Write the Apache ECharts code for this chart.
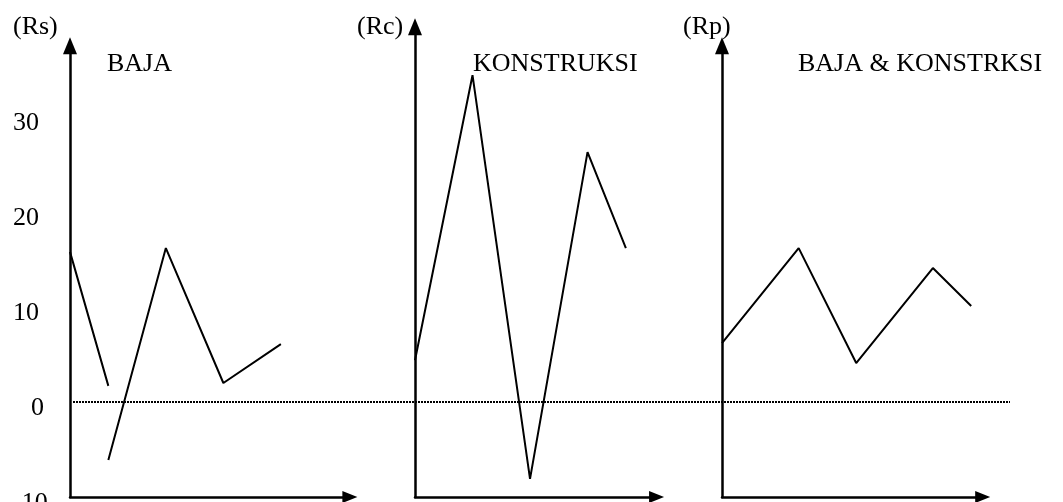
<!DOCTYPE html>
<html>
<head>
<meta charset="utf-8">
<script src="https://cdn.jsdelivr.net/npm/echarts@6/dist/echarts.min.js"></script>
<style>
  html, body { margin: 0; padding: 0; background: #fff; }
  #chart { width: 1063px; height: 502px; }
</style>
</head>
<body>
<div id="chart"></div>
<script>
// Return values per panel (x = period position, y = return)
const bajaX = [0, 2, 2, 5, 8, 11];
const bajaY = [15.8, 1.7, -6.1, 16.2, 2.0, 6.1];
const bajaBreakAfter = 1; // the line is broken after this point
const konstruksiX = [0, 3, 6, 9, 11];
const konstruksiY = [4.4, 34.4, -8.1, 26.3, 16.2];
const gabunganX = [0, 4, 7, 11, 13];
const gabunganY = [6.2, 16.2, 4.1, 14.1, 10.1];
const zeroX = [0, 1];
const zeroY = [0, 0];

const yTicks = [-10, 0, 10, 20, 30];
const axisNames = ['(Rs)', '(Rc)', '(Rp)'];
const panelTitles = ['BAJA', 'KONSTRUKSI', 'BAJA & KONSTRKSI'];

// layout
const UX = 19.17, UY = 9.5, BASE = 497;
const axisLeft = [70, 415, 722];
const xMax = [14.6, 12.6, 13.6];
const yMax = [37.5, 39.5, 37.5];
const yMin = -10;
const FONT = "'Liberation Serif', 'Times New Roman', serif";

function pairs(xs, ys, breakAfter) {
    const out = [];
    xs.forEach((x, i) => {
        out.push([x, ys[i]]);
        if (i === breakAfter) out.push([x, '-']);
    });
    return out;
}

const axisLineStyle = { color: '#000', width: 2.5 };
const grids = [], xAxes = [], yAxes = [];

for (let i = 0; i < 3; i++) {
    const h = (yMax[i] - yMin) * UY;
    grids.push({ left: axisLeft[i], top: BASE - h, width: xMax[i] * UX, height: h, outerBoundsMode: 'none', containLabel: false });
    xAxes.push({
        type: 'value', gridIndex: i, min: 0, max: xMax[i],
        axisLine: { show: true, onZero: false, lineStyle: axisLineStyle, symbol: ['none', 'triangle'], symbolSize: [12, 15] },
        axisTick: { show: false }, axisLabel: { show: false }, splitLine: { show: false }
    });
    yAxes.push({
        type: 'value', gridIndex: i, min: yMin, max: yMax[i], interval: 10,
        axisLine: { show: true, onZero: false, lineStyle: axisLineStyle, symbol: ['none', 'triangle'], symbolSize: [14, 17] },
        axisTick: { show: false }, splitLine: { show: false },
        axisLabel: {
            show: i === 0, align: 'left', margin: 57, padding: [12, 0, 0, 0],
            color: '#000', fontSize: 26, fontFamily: FONT,
            formatter: function (v) {
                if (yTicks.indexOf(v) < 0) return '';
                return v === 0 ? '{z|0}' : String(v);
            },
            rich: { z: { padding: [0, 0, 0, 18], color: '#000', fontSize: 26, fontFamily: FONT } }
        }
    });
}

// grid for the dotted zero line that runs across all panels
const hz = (yMax[0] - yMin) * UY;
grids.push({ left: 73, top: BASE - hz, width: 937, height: hz, outerBoundsMode: 'none', containLabel: false });
xAxes.push({ type: 'value', gridIndex: 3, min: 0, max: 1, show: false });
yAxes.push({ type: 'value', gridIndex: 3, min: yMin, max: yMax[0], show: false });

const lineBase = { type: 'line', symbol: 'none', lineStyle: { color: '#000', width: 2 }, silent: true };

const textStyle = { fill: '#000', fontSize: 26, fontFamily: FONT, verticalAlign: 'middle' };
const titleX = [13, 357, 683];
const panelTitleX = [107, 473, 798];
const graphics = [];
for (let i = 0; i < 3; i++) {
    graphics.push({ type: 'text', left: titleX[i], top: 14, style: Object.assign({ text: axisNames[i] }, textStyle) });
    graphics.push({ type: 'text', left: panelTitleX[i], top: 51, style: Object.assign({ text: panelTitles[i] }, textStyle) });
}

const chart = echarts.init(document.getElementById('chart'));
chart.setOption({
    animation: false,
    backgroundColor: '#fff',
    grid: grids,
    xAxis: xAxes,
    yAxis: yAxes,
    graphic: graphics,
    series: [
        Object.assign({ xAxisIndex: 0, yAxisIndex: 0, data: pairs(bajaX, bajaY, bajaBreakAfter) }, lineBase),
        Object.assign({ xAxisIndex: 1, yAxisIndex: 1, data: pairs(konstruksiX, konstruksiY, -1) }, lineBase),
        Object.assign({ xAxisIndex: 2, yAxisIndex: 2, data: pairs(gabunganX, gabunganY, -1) }, lineBase),
        {
            type: 'line', xAxisIndex: 3, yAxisIndex: 3, symbol: 'none', silent: true, z: 1,
            data: pairs(zeroX, zeroY, -1),
            lineStyle: { color: '#000', width: 2, type: [2, 1] }
        }
    ]
});
</script>
</body>
</html>
